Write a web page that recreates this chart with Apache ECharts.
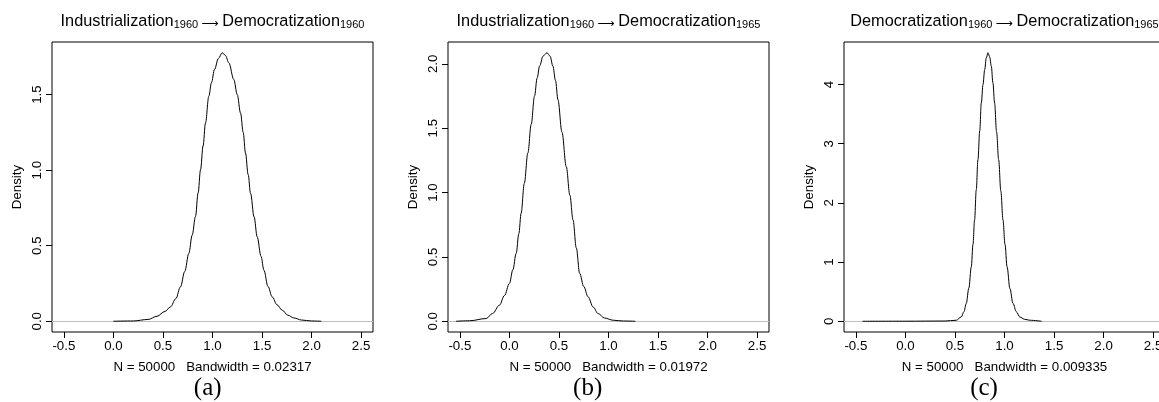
<!DOCTYPE html>
<html>
<head>
<meta charset="utf-8">
<script src="https://cdn.jsdelivr.net/npm/echarts@6/dist/echarts.min.js"></script>
<style>
  html, body { margin: 0; padding: 0; background: #ffffff; }
  #chart { width: 1159px; height: 402px; }
</style>
</head>
<body>
<div id="chart"></div>
<script>
// Kernel density estimates of three path coefficients (50000 draws each)
const xTicks = [-0.5, 0.0, 0.5, 1.0, 1.5, 2.0, 2.5];
const yTicksA = [0, 0.5, 1.0, 1.5];
const yTicksB = [0, 0.5, 1.0, 1.5, 2.0];
const yTicksC = [0, 1, 2, 3, 4];

// [x, density] pairs
const densityA = [
  [0.0, 0], [0.2, 0.002], [0.35, 0.012], [0.44, 0.033], [0.52, 0.065], [0.576, 0.095],
  [0.63, 0.15], [0.677, 0.228], [0.72, 0.33], [0.761, 0.449], [0.795, 0.57], [0.828, 0.692],
  [0.855, 0.85], [0.879, 1.002], [0.905, 1.16], [0.929, 1.312], [0.963, 1.489], [0.99, 1.58],
  [1.02, 1.666], [1.06, 1.74], [1.098, 1.777], [1.13, 1.76], [1.165, 1.71], [1.215, 1.60],
  [1.25, 1.50], [1.283, 1.378], [1.31, 1.25], [1.333, 1.113], [1.36, 0.97], [1.384, 0.847],
  [1.42, 0.69], [1.451, 0.559], [1.49, 0.43], [1.519, 0.338], [1.56, 0.23], [1.603, 0.161],
  [1.65, 0.11], [1.704, 0.073], [1.76, 0.04], [1.821, 0.022], [1.9, 0.008], [2.0, 0.002],
  [2.098, 0]
];
const densityB = [
  [-0.54, 0], [-0.4, 0.004], [-0.236, 0.021], [-0.17, 0.06], [-0.101, 0.125], [-0.05, 0.2],
  [0.0, 0.294], [0.035, 0.4], [0.068, 0.527], [0.095, 0.68], [0.118, 0.839], [0.15, 1.07],
  [0.186, 1.307], [0.22, 1.53], [0.253, 1.748], [0.28, 1.89], [0.304, 1.982], [0.34, 2.06],
  [0.378, 2.086], [0.41, 2.06], [0.439, 1.982], [0.465, 1.87], [0.49, 1.72], [0.53, 1.47],
  [0.574, 1.2], [0.61, 0.98], [0.642, 0.787], [0.675, 0.57], [0.709, 0.372], [0.75, 0.27],
  [0.794, 0.19], [0.845, 0.11], [0.895, 0.06], [0.96, 0.025], [1.047, 0.008], [1.15, 0.002],
  [1.27, 0]
];
const densityC = [
  [-0.432, 0], [0.0, 0.001], [0.4, 0.004], [0.513, 0.017], [0.564, 0.073], [0.59, 0.16],
  [0.614, 0.3], [0.64, 0.56], [0.665, 0.92], [0.682, 1.3], [0.698, 1.71], [0.715, 2.22],
  [0.732, 2.73], [0.75, 3.22], [0.766, 3.69], [0.783, 4.0], [0.8, 4.25], [0.816, 4.45],
  [0.833, 4.537], [0.85, 4.47], [0.867, 4.31], [0.883, 4.03], [0.9, 3.69], [0.92, 3.2],
  [0.941, 2.73], [0.963, 2.2], [0.985, 1.71], [1.005, 1.3], [1.026, 0.92], [1.055, 0.55],
  [1.086, 0.3], [1.12, 0.16], [1.154, 0.073], [1.2, 0.035], [1.255, 0.017], [1.374, 0]
];

const titleParts = [
  ['Industrialization', '1960', 'Democratization', '1960'],
  ['Industrialization', '1960', 'Democratization', '1965'],
  ['Democratization', '1960', 'Democratization', '1965']
];
const sampleSizes = [50000, 50000, 50000];
const bandwidths = ['0.02317', '0.01972', '0.009335'];
const panelLetters = ['(a)', '(b)', '(c)'];

// ---- layout ----
const SANS = '"Liberation Sans", Arial, Helvetica, sans-serif';
const SERIF = '"Liberation Serif", "Times New Roman", serif';
const panelLeft = [52, 448, 844];
const plotWidth = 321;
const plotTop = 42;
const plotHeight = 290;
const letterX = [207.7, 587.7, 984];
const xLimits = [-0.5, 2.5];
const xPad = 0.04 * (xLimits[1] - xLimits[0]);

const panels = [
  { data: densityA, yTicks: yTicksA, fmt: v => v.toFixed(1) },
  { data: densityB, yTicks: yTicksB, fmt: v => v.toFixed(1) },
  { data: densityC, yTicks: yTicksC, fmt: v => String(v) }
];

const grid = [], xAxis = [], yAxis = [], series = [], graphic = [];

panels.forEach((p, i) => {
  const ymax = Math.max(...p.data.map(d => d[1]));
  grid.push({
    left: panelLeft[i], top: plotTop, width: plotWidth, height: plotHeight,
    show: true, borderColor: '#000', borderWidth: 1, backgroundColor: 'transparent',
    containLabel: false, outerBoundsMode: 'none'
  });
  xAxis.push({
    type: 'value', gridIndex: i, position: 'bottom',
    min: xLimits[0] - xPad, max: xLimits[1] + xPad,
    axisLine: { show: false, onZero: false },
    splitLine: { show: false },
    axisTick: { show: true, inside: false, length: 6, customValues: xTicks,
      lineStyle: { color: '#000', width: 1 } },
    axisLabel: { show: true, customValues: xTicks, margin: 8,
      formatter: v => v.toFixed(1),
      color: '#000', fontFamily: SANS, fontSize: 13.3 },
    name: 'N = ' + sampleSizes[i] + '   Bandwidth = ' + bandwidths[i],
    nameLocation: 'middle', nameGap: 29,
    nameTextStyle: { color: '#000', fontFamily: SANS, fontSize: 13.3 }
  });
  yAxis.push({
    type: 'value', gridIndex: i, position: 'left',
    min: -0.04 * ymax, max: 1.04 * ymax,
    axisLine: { show: false, onZero: false },
    splitLine: { show: false },
    axisTick: { show: true, inside: false, length: 6, customValues: p.yTicks,
      lineStyle: { color: '#000', width: 1 } },
    axisLabel: { show: true, customValues: p.yTicks, rotate: 90, margin: 8,
      formatter: p.fmt,
      color: '#000', fontFamily: SANS, fontSize: 13.3 },
    name: 'Density', nameLocation: 'middle', nameRotate: 90, nameGap: 28,
    nameTextStyle: { color: '#000', fontFamily: SANS, fontSize: 13.3 }
  });
  series.push({
    type: 'line', xAxisIndex: i, yAxisIndex: i,
    data: p.data, showSymbol: false, symbol: 'none',
    smooth: 0.35, smoothMonotone: 'x',
    lineStyle: { color: '#000', width: 1 },
    z: 3, animation: false, silent: true,
    markLine: {
      silent: true, symbol: 'none', z: 1, animation: false,
      label: { show: false },
      lineStyle: { color: '#bebebe', type: 'solid', width: 1 },
      data: [{ yAxis: 0 }]
    }
  });

  const t = titleParts[i];
  graphic.push({
    type: 'text', x: panelLeft[i] + plotWidth / 2, y: 22, silent: true,
    style: {
      text: '{m|' + t[0] + '}{s|' + t[1] + '}{a|⟶}{m|' + t[2] + '}{s|' + t[3] + '}',
      align: 'center', verticalAlign: 'middle',
      rich: {
        m: { fontFamily: SANS, fontSize: 16.3, lineHeight: 16, verticalAlign: 'bottom', fill: '#000' },
        s: { fontFamily: SANS, fontSize: 11, lineHeight: 8, verticalAlign: 'bottom', fill: '#000' },
        a: { fontFamily: '"DejaVu Sans", sans-serif', fontSize: 12, lineHeight: 15, verticalAlign: 'bottom',
             fill: '#000', padding: [0, 4, 0, 3] }
      }
    }
  });
  graphic.push({
    type: 'text', x: letterX[i], y: 388, silent: true,
    style: {
      text: panelLetters[i], align: 'center', verticalAlign: 'middle',
      fontFamily: SERIF, fontSize: 25, fill: '#000'
    }
  });
});

const chart = echarts.init(document.getElementById('chart'), null, { renderer: 'canvas' });
chart.setOption({
  backgroundColor: '#ffffff',
  animation: false,
  grid, xAxis, yAxis, series, graphic
});
</script>
</body>
</html>
